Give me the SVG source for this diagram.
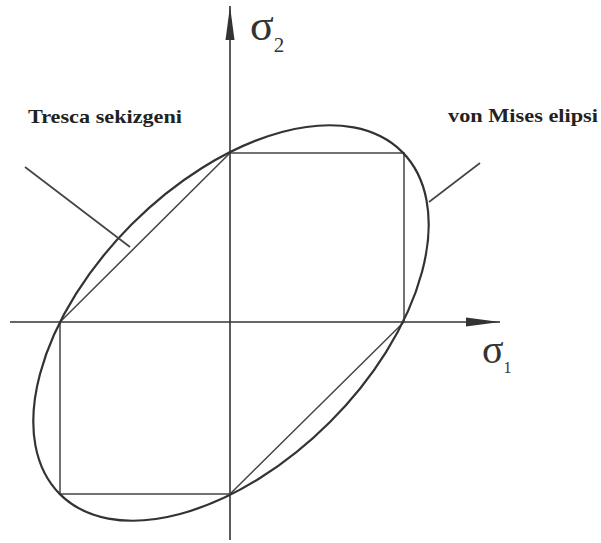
<svg xmlns="http://www.w3.org/2000/svg" width="601" height="543" viewBox="0 0 601 543">
<defs>
<style>
.axis{stroke:#333;stroke-width:1.6;fill:none}
.tresca{stroke:#444;stroke-width:1.5;fill:none}
.vm{stroke:#333;stroke-width:2.2;fill:none}
.lead{stroke:#444;stroke-width:1.6;fill:none}
.lbl{font-family:"Liberation Serif","Times New Roman",serif;font-weight:bold;font-size:19px;fill:#222}
.sym{font-family:"Liberation Serif","Times New Roman",serif;fill:#333}
</style>
<marker id="arr" viewBox="0 0 34 10" markerUnits="userSpaceOnUse" markerWidth="34" markerHeight="10" refX="34" refY="5" orient="auto">
<path d="M0,0.5 L34,5 L0,9.5 z" fill="#333"/>
</marker>
</defs>
<rect width="601" height="543" fill="#fff"/>
<g id="axes">
<line class="axis" x1="230" y1="540" x2="230" y2="6" marker-end="url(#arr)"/>
<line class="axis" x1="10" y1="322" x2="500" y2="322" marker-end="url(#arr)"/>
</g>
<g id="tresca">
<polygon class="tresca" points="230,153 404,153 404,322 230,494 60,494 60,322"/>
</g>
<g id="vonmises">
<ellipse class="vm" cx="0" cy="0" rx="242" ry="140" transform="translate(231,323) rotate(-45)"/>
</g>
<g id="connectors">
<line class="lead" x1="25" y1="167" x2="130" y2="247"/>
<line class="lead" x1="480" y1="163" x2="429" y2="202"/>
</g>
<g id="label-tresca">
<text class="lbl" x="28" y="123" textLength="154" lengthAdjust="spacingAndGlyphs">Tresca sekizgeni</text>
</g>
<g id="label-vonmises">
<text class="lbl" x="448" y="122" textLength="150" lengthAdjust="spacingAndGlyphs">von Mises elipsi</text>
</g>
<g id="label-sigma2">
<text class="sym" x="250" y="40" font-size="44">σ<tspan font-size="21" dy="12">2</tspan></text>
</g>
<g id="label-sigma1">
<text class="sym" x="482" y="363" font-size="40">σ<tspan font-size="16" dy="10">1</tspan></text>
</g>
</svg>
